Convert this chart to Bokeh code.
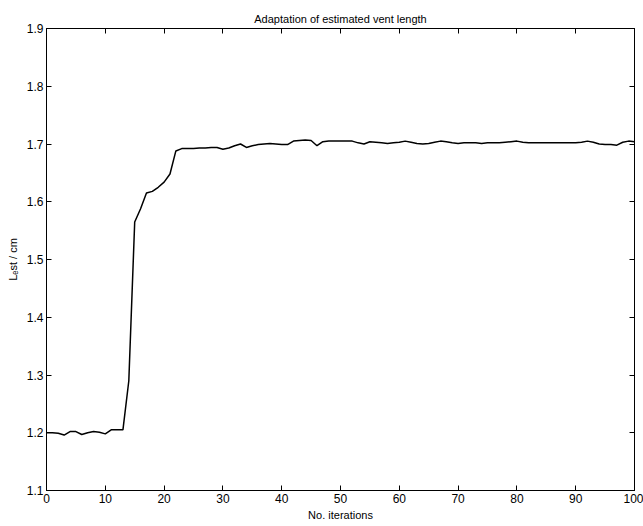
from bokeh.plotting import figure
from bokeh.models import LinearAxis, Range1d, FixedTicker
from bokeh.embed import file_html
from bokeh.resources import INLINE

iterations = list(range(101))
l_est = [
    1.200, 1.200, 1.199, 1.196, 1.202, 1.202, 1.197, 1.200, 1.202, 1.201,
    1.198, 1.205, 1.205, 1.205, 1.290, 1.565, 1.588, 1.615, 1.618, 1.625,
    1.634, 1.648, 1.688, 1.692, 1.692, 1.692, 1.693, 1.693, 1.694, 1.694,
    1.691, 1.693, 1.697, 1.700, 1.694, 1.697, 1.699, 1.700, 1.701, 1.700,
    1.699, 1.699, 1.705, 1.706, 1.707, 1.706, 1.697, 1.704, 1.705, 1.705,
    1.705, 1.705, 1.705, 1.702, 1.700, 1.704, 1.703, 1.702, 1.701, 1.702,
    1.703, 1.705, 1.703, 1.701, 1.700, 1.701, 1.703, 1.705, 1.704, 1.702,
    1.701, 1.702, 1.702, 1.702, 1.701, 1.702, 1.702, 1.702, 1.703, 1.704,
    1.705, 1.703, 1.702, 1.702, 1.702, 1.702, 1.702, 1.702, 1.702, 1.702,
    1.702, 1.703, 1.705, 1.703, 1.700, 1.699, 1.699, 1.698, 1.703, 1.705,
    1.704,
]
x_ticks = [0, 10, 20, 30, 40, 50, 60, 70, 80, 90, 100]
y_ticks = [1.1, 1.2, 1.3, 1.4, 1.5, 1.6, 1.7, 1.8, 1.9]

FONT = "Liberation Sans"

p = figure(width=643, height=526, output_backend="svg", toolbar_location=None,
           x_range=Range1d(0, 100), y_range=Range1d(1.1, 1.9),
           min_border_left=46, min_border_right=9, min_border_top=28,
           min_border_bottom=36, background_fill_color="white",
           border_fill_color="white")

p.title.text = "Adaptation of estimated vent length"
p.title.align = "center"
p.title.text_font = FONT
p.title.text_font_size = "11px"
p.title.text_font_style = "normal"
p.title.text_color = "black"
p.title.standoff = 8

p.xgrid.visible = False
p.ygrid.visible = False
p.outline_line_color = "black"
p.outline_line_width = 1

p.line(iterations, l_est, line_color="black", line_width=1.5)

def style(ax, labels=True):
    ax.axis_line_color = "black"
    ax.major_tick_line_color = "black"
    ax.major_tick_in = 5
    ax.major_tick_out = 0
    ax.minor_tick_line_color = None
    ax.major_label_text_font = FONT
    ax.major_label_text_font_size = "12px"
    ax.major_label_text_color = "black"
    ax.axis_label_text_font = FONT
    ax.axis_label_text_font_size = "11px"
    ax.axis_label_text_font_style = "normal"
    ax.axis_label_text_color = "black"
    ax.major_label_standoff = 3
    if not labels:
        ax.major_label_text_font_size = "0px"
        ax.major_label_text_color = None

p.xaxis.ticker = FixedTicker(ticks=x_ticks)
p.yaxis.ticker = FixedTicker(ticks=y_ticks)
p.xaxis.axis_label = "No. iterations"
p.yaxis.axis_label = "Lₑst / cm"
p.xaxis.axis_label_standoff = 3
p.yaxis.axis_label_standoff = 5
style(p.xaxis[0])
style(p.yaxis[0])

top = LinearAxis(ticker=FixedTicker(ticks=x_ticks))
right = LinearAxis(ticker=FixedTicker(ticks=y_ticks))
style(top, labels=False)
style(right, labels=False)
p.add_layout(top, "above")
p.add_layout(right, "right")

open("out.html", "w").write(file_html(p, INLINE))
